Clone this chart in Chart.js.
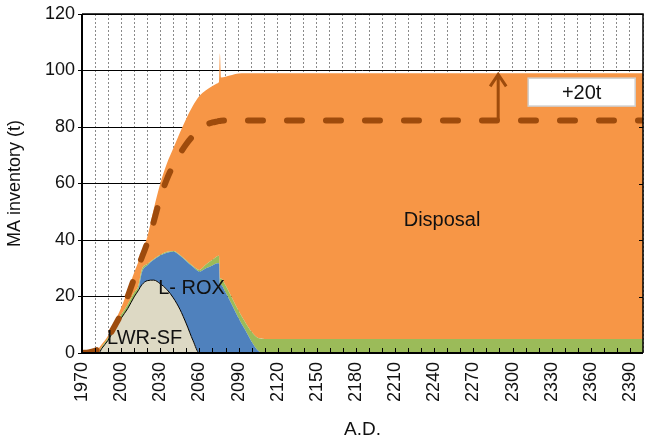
<!DOCTYPE html>
<html>
<head>
<meta charset="utf-8">
<script src="https://cdn.jsdelivr.net/npm/chart.js@4"></script>
<style>
  body { margin: 0; background: #fff; }
  #wrap { width: 645px; height: 445px; }
</style>
</head>
<body>
<div id="wrap"><canvas id="areachart"></canvas></div>
<script>
// years shared by all stacked layers
const years = [1970, 1975, 1980, 1983, 1985, 1990, 1995, 2000, 2005, 2010, 2013, 2016, 2020, 2025,
  2030, 2035, 2040, 2045, 2050, 2055, 2060, 2065, 2070, 2074, 2075, 2075.7, 2076.5, 2080, 2085,
  2090, 2095, 2100, 2105, 2110, 2150, 2200, 2250, 2300, 2350, 2400];

// layer values (t), stacked bottom to top
const lwrSF = [0, 0, 0, 0, 1.5, 4.5, 8.5, 12.3, 15.7, 19.9, 22, 24.2, 25.6, 25.8,
  24.5, 22.5, 19.5, 15.5, 10.3, 4.5, 0, 0, 0, 0, 0, 0, 0, 0, 0,
  0, 0, 0, 0, 0, 0, 0, 0, 0, 0, 0];
const lRox = [0, 0, 0, 0, 0, 0, 0, 0, 0, 0, 0, 4.5, 5.4, 7.2,
  10, 13, 16.3, 19, 22.2, 26, 28.8, 30, 31, 31.8, 31.8, 24.5, 24.2, 21.5, 17,
  12.3, 8.2, 4, 0.8, 0, 0, 0, 0, 0, 0, 0];
const other = [0, 0, 0, 0.3, 0.5, 0.8, 1, 1.2, 1.5, 1.5, 1.5, 1, 0.5, 0.3,
  0.3, 0.3, 0.3, 0.3, 0.3, 0.3, 0.6, 1.3, 2, 2.5, 2.6, 2, 2.2, 2.5, 2.5,
  2.7, 2.8, 3.5, 4.5, 5, 5, 5, 5, 5, 5, 5];
const disposal = [0, 0.3, 1, 1.5, 1, 0.8, 1.5, 2.5, 4.8, 7.1, 8.5, 6.3, 9.5, 17.7,
  25.2, 31.2, 36.4, 43.2, 50.2, 56.7, 61.6, 61.7, 61.5, 61.2, 61.6, 79.5, 71.1, 73.8, 78.9,
  83.9, 88, 91.5, 93.7, 94, 94, 94, 94, 94, 94, 94];
// dashed reference line
const reference = [0, 0.2, 0.8, 1.5, 2.5, 5.5, 9.5, 14, 20, 26.5, 30.5, 34, 39, 46.5,
  55, 61.5, 66.5, 70.5, 74, 76.8, 79, 80.8, 81.6, 82, 82.1, 82.1, 82.2, 82.3, 82.3,
  82.3, 82.3, 82.3, 82.3, 82.3, 82.3, 82.3, 82.3, 82.3, 82.3, 82.3];

const yTicks = [0, 20, 40, 60, 80, 100, 120];

const notes = [
  { text: 'Disposal', x: 2246, y: 47 },
  { text: 'L- ROX', x: 2054, y: 23 },
  { text: 'LWR-SF', x: 2018, y: 5.3 }
];
const arrow = { x: 2289, from: 82.3, to: 98.6 };
const box = { x0: 2312, x1: 2394, y0: 87.4, y1: 97.3, text: '+20t' };

const FONT = "'Liberation Sans', Arial, sans-serif";
const BROWN = '#9e4b0c';

function pts(vals) {
  return years.map((x, i) => ({ x: x, y: vals[i] }));
}

const decor = {
  id: 'decor',
  afterDatasetsDraw(chart) {
    const { ctx, chartArea: a, scales: { x, y } } = chart;
    ctx.save();
    ctx.strokeStyle = '#000';
    // inward ticks on bottom axis
    ctx.lineWidth = 1;
    for (let yr = 1980; yr < 2400; yr += 10) {
      const px = Math.round(x.getPixelForValue(yr)) + 0.5;
      ctx.beginPath();
      ctx.moveTo(px, a.bottom);
      ctx.lineTo(px, a.bottom - 5);
      ctx.stroke();
    }
    // frame
    ctx.lineWidth = 2;
    ctx.beginPath();
    ctx.moveTo(a.left, a.top);
    ctx.lineTo(a.left, a.bottom);
    ctx.lineTo(a.right, a.bottom);
    ctx.stroke();
    ctx.lineWidth = 1.5;
    ctx.beginPath();
    ctx.moveTo(a.left, a.top);
    ctx.lineTo(a.right, a.top);
    ctx.lineTo(a.right, a.bottom);
    ctx.stroke();
    ctx.lineWidth = 1;
    yTicks.forEach(v => {
      const py = Math.round(y.getPixelForValue(v)) + 0.5;
      ctx.beginPath();
      ctx.moveTo(a.right, py);
      ctx.lineTo(a.right - 4, py);
      ctx.stroke();
    });
    // arrow
    const ax = x.getPixelForValue(arrow.x);
    const ay0 = y.getPixelForValue(arrow.from);
    const ay1 = y.getPixelForValue(arrow.to);
    ctx.strokeStyle = BROWN;
    ctx.lineWidth = 3;
    ctx.beginPath();
    ctx.moveTo(ax, ay0);
    ctx.lineTo(ax, ay1 + 1);
    ctx.moveTo(ax - 8, ay1 + 12);
    ctx.lineTo(ax, ay1);
    ctx.lineTo(ax + 8, ay1 + 12);
    ctx.stroke();
    // +20t box
    const bx0 = x.getPixelForValue(box.x0), bx1 = x.getPixelForValue(box.x1);
    const by0 = y.getPixelForValue(box.y1), by1 = y.getPixelForValue(box.y0);
    ctx.fillStyle = '#fff';
    ctx.fillRect(bx0, by0, bx1 - bx0, by1 - by0);
    ctx.strokeStyle = '#cfcfcf';
    ctx.lineWidth = 1.5;
    ctx.strokeRect(bx0, by0, bx1 - bx0, by1 - by0);
    ctx.fillStyle = '#111';
    ctx.font = '20px ' + FONT;
    ctx.textAlign = 'center';
    ctx.textBaseline = 'middle';
    ctx.fillText(box.text, (bx0 + bx1) / 2, (by0 + by1) / 2 + 1);
    // area labels
    notes.forEach(n => {
      ctx.fillText(n.text, x.getPixelForValue(n.x), y.getPixelForValue(n.y));
    });
    ctx.restore();
  }
};

const ctx = document.getElementById('areachart').getContext('2d');
const areachart = new Chart(ctx, {
  type: 'line',
  data: {
    datasets: [
      {
        label: 'Reference',
        data: pts(reference),
        stack: 'ref',
        order: -1,
        borderColor: BROWN,
        borderWidth: 6,
        borderDash: [15, 24],
        borderCapStyle: 'round',
        fill: false,
        pointRadius: 0,
        cubicInterpolationMode: 'monotone'
      },
      {
        label: 'LWR-SF',
        data: pts(lwrSF),
        stack: 'ma',
        borderColor: '#000',
        borderWidth: 1,
        backgroundColor: '#ddd9c4',
        fill: 'origin',
        pointRadius: 0,
        cubicInterpolationMode: 'monotone'
      },
      {
        label: 'L-ROX',
        data: pts(lRox),
        stack: 'ma',
        borderWidth: 0,
        backgroundColor: '#4f81bd',
        fill: '-1',
        pointRadius: 0,
        cubicInterpolationMode: 'monotone'
      },
      {
        label: 'Other',
        data: pts(other),
        stack: 'ma',
        borderWidth: 0,
        backgroundColor: '#9bbb59',
        fill: '-1',
        pointRadius: 0,
        cubicInterpolationMode: 'monotone'
      },
      {
        label: 'Disposal',
        data: pts(disposal),
        stack: 'ma',
        borderWidth: 0,
        backgroundColor: '#f79646',
        fill: '-1',
        pointRadius: 0,
        cubicInterpolationMode: 'monotone'
      }
    ]
  },
  options: {
    responsive: true,
    maintainAspectRatio: false,
    animation: false,
    layout: { padding: { top: 14, right: 2, left: 0, bottom: 0 } },
    plugins: { legend: { display: false }, tooltip: { enabled: false } },
    scales: {
      x: {
        type: 'linear',
        min: 1970,
        max: 2400,
        afterFit: s => { s.height = 92; s.paddingRight = 0; s.paddingLeft = 0; },
        grid: {
          color: '#8a8a8a',
          lineWidth: 1,
          drawTicks: false
        },
        border: { display: false, dash: [2, 2] },
        ticks: {
          stepSize: 10,
          autoSkip: false,
          minRotation: 90,
          maxRotation: 90,
          padding: 9,
          color: '#111',
          font: { family: FONT, size: 18 },
          callback: v => ((v - 1970) % 30 === 0 && v < 2400) ? String(v) : ''
        },
        title: {
          display: true,
          text: 'A.D.',
          color: '#111',
          font: { family: FONT, size: 19 },
          padding: { top: 0, bottom: 4 }
        }
      },
      y: {
        stacked: true,
        min: 0,
        max: 120,
        afterFit: s => { s.width = 82; },
        grid: {
          color: '#000',
          lineWidth: 1,
          tickLength: 4
        },
        border: { display: false },
        ticks: {
          stepSize: 20,
          padding: 3,
          color: '#111',
          font: { family: FONT, size: 18 }
        },
        title: {
          display: true,
          text: 'MA inventory (t)',
          color: '#111',
          font: { family: FONT, size: 18 },
          padding: { top: 4, bottom: 0 }
        }
      }
    }
  },
  plugins: [decor]
});
</script>
</body>
</html>
